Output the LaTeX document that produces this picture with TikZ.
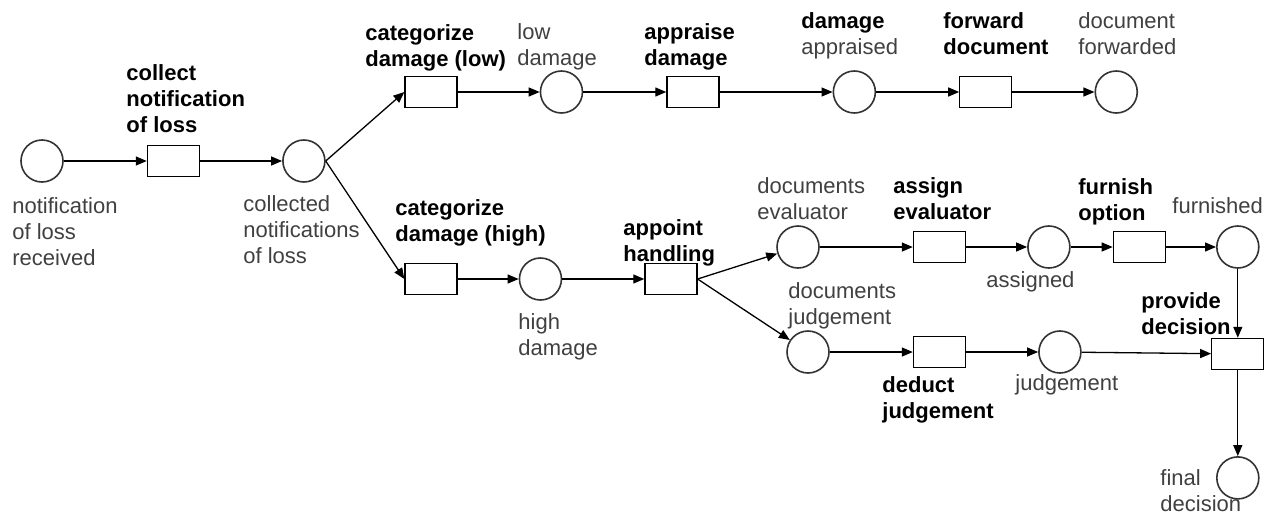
\documentclass[tikz,border=0pt]{standalone}
\usepackage{fontspec}
\setmainfont{Liberation Sans}
\usepackage{xcolor}
\usepackage{tikz}
\usetikzlibrary{arrows.meta, positioning}
\definecolor{pnline}{RGB}{0,0,0}
\definecolor{pnplace}{RGB}{51,51,51}
\definecolor{pntext}{RGB}{64,64,64}
\tikzset{
  place/.style      = {circle, draw=pnplace, line width=0.8pt, fill=white,
                       minimum size=21pt, inner sep=0pt},
  transition/.style = {rectangle, draw=pnline, line width=0.65pt, fill=white,
                       minimum width=26pt, minimum height=15.5pt, inner sep=0pt},
  flow/.style       = {-{Triangle[length=5.5pt,width=4.5pt]}, line width=0.65pt, draw=pnline},
  placelab/.style   = {anchor=north west, align=left, inner sep=0pt, text=pntext,
                       font=\fontsize{11pt}{13pt}\selectfont},
  translab/.style   = {placelab, text=black, font=\fontsize{11pt}{13pt}\selectfont\bfseries},
}

\begin{document}
\begin{tikzpicture}[x=0.5pt, y=-0.5pt]
\useasboundingbox (0,0) rectangle (1277,514);

% ---------- Intake row ----------
\node[place] (received) at (42,161) {};
\node[transition, right=41.5pt of received] (collect) {};
\node[place, right=41pt of collect] (collected) {};

% ---------- Low damage row ----------
\node[transition] (catlow) at (431,92) {};
\node[place, right=41pt of catlow] (lowdmg) {};
\node[transition, right=41.5pt of lowdmg] (appraise) {};
\node[place, right=56.5pt of appraise] (appraised) {};
\node[transition, right=41.5pt of appraised] (forward) {};
\node[place, right=41pt of forward] (forwarded) {};

% ---------- High damage row ----------
\node[transition] (cathigh) at (431,279) {};
\node[place, right=30.5pt of cathigh] (highdmg) {};
\node[transition, right=41pt of highdmg] (appoint) {};

% ---------- Evaluator row ----------
\node[place] (docseval) at (798,247) {};
\node[transition, right=46.5pt of docseval] (assign) {};
\node[place, right=30.5pt of assign] (assigned) {};
\node[transition, right=21pt of assigned] (furnish) {};
\node[place, right=25pt of furnish] (furnished) {};

% ---------- Judgement row ----------
\node[place] (docsjudge) at (808,352) {};
\node[transition, right=41.5pt of docsjudge] (deduct) {};
\node[place, right=36pt of deduct] (judgement) {};
\node[transition, below=34.5pt of furnished] (provide) {};
\node[place, below=43pt of provide] (final) {};

% ---------- Labels ----------
\node[placelab] (receivedlab) at (12,197) {notification\\of loss\\received};
\node[translab] (collectlab) at (126,64) {collect\\notification\\of loss};
\node[placelab] (collectedlab) at (243,195) {collected\\notifications\\of loss};
\node[translab] (catlowlab) at (365,24) {categorize\\damage (low)};
\node[placelab] (lowdmglab) at (517,23) {low\\damage};
\node[translab] (appraiselab) at (644,23) {appraise\\damage};
\node[placelab] (appraisedlab) at (801,12) {\textbf{\color{black}damage}\\appraised};
\node[translab] (forwardlab) at (943,12) {forward\\document};
\node[placelab] (forwardedlab) at (1078,12) {document\\forwarded};
\node[translab] (cathighlab) at (395,199) {categorize\\damage (high)};
\node[placelab] (highdmglab) at (518,313) {high\\damage};
\node[translab] (appointlab) at (623,219) {appoint\\handling};
\node[placelab] (docsevallab) at (757,177) {documents\\evaluator};
\node[translab] (assignlab) at (893,177) {assign\\evaluator};
\node[placelab] (assignedlab) at (986,271) {assigned};
\node[translab] (furnishlab) at (1078,178) {furnish\\option};
\node[placelab] (furnishedlab) at (1172,197) {furnished};
\node[placelab] (docsjudgelab) at (788,282) {documents\\judgement};
\node[translab] (deductlab) at (882,376) {deduct\\judgement};
\node[placelab] (judgementlab) at (1015,374) {judgement};
\node[translab] (providelab) at (1141,292) {provide\\decision};
\node[placelab] (finallab) at (1160,469) {final\\decision};

% ---------- Edges ----------
\draw[flow] (received) -- (collect);
\draw[flow] (collect) -- (collected);
\draw[flow] (collected.east) -- (catlow.west);
\draw[flow] (collected.east) -- (cathigh.west);
\draw[flow] (catlow) -- (lowdmg);
\draw[flow] (lowdmg) -- (appraise);
\draw[flow] (appraise) -- (appraised);
\draw[flow] (appraised) -- (forward);
\draw[flow] (forward) -- (forwarded);
\draw[flow] (cathigh) -- (highdmg);
\draw[flow] (highdmg) -- (appoint);
\draw[flow] (appoint.east) -- (docseval);
\draw[flow] (appoint.east) -- (docsjudge);
\draw[flow] (docseval) -- (assign);
\draw[flow] (assign) -- (assigned);
\draw[flow] (assigned) -- (furnish);
\draw[flow] (furnish) -- (furnished);
\draw[flow] (furnished) -- (provide);
\draw[flow] (docsjudge) -- (deduct);
\draw[flow] (deduct) -- (judgement);
\draw[flow] (judgement) -- (provide);
\draw[flow] (provide) -- (final);

\end{tikzpicture}
\end{document}
